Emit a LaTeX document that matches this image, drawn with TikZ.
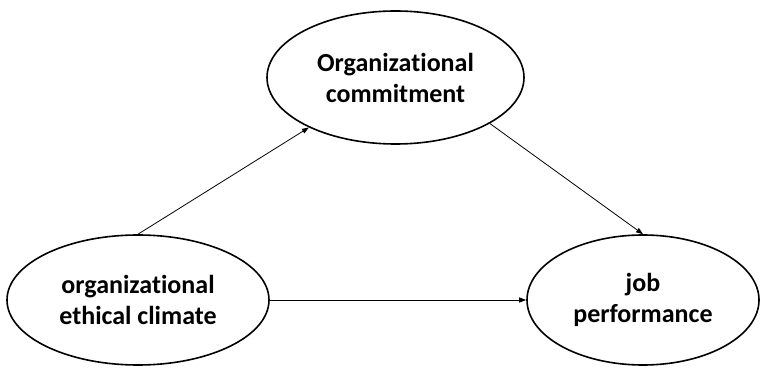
\documentclass[tikz,border=0pt]{standalone}
\usepackage{fontspec}
\setmainfont{Carlito}[Ligatures=NoCommon]
\usetikzlibrary{shapes.geometric,arrows.meta}
\tikzset{
  oval/.style={draw=black, line width=1.6pt, ellipse, inner sep=0pt, align=center,
    font=\fontsize{26}{31}\selectfont\bfseries},
  link/.style={line width=0.8pt, -{Triangle[length=7pt,width=5pt]}}
}
\begin{document}
\begin{tikzpicture}[x=1pt,y=1pt]
\useasboundingbox (0,0) rectangle (760,367);
\node[oval, minimum width=257pt, minimum height=133pt] (oc) at (395.5,289.5) {Organizational\\commitment};
\node[oval, minimum width=262pt, minimum height=130pt] (ec) at (138,67) {organizational\\ethical climate};
\node[oval, minimum width=232pt, minimum height=130pt] (jp) at (643,67) {job\\performance};
\draw[link] (ec.north) -- (oc.210);
\draw[link] (oc.334) -- (jp.north);
\draw[link] (ec.east) -- (jp.west);
\end{tikzpicture}
\end{document}
